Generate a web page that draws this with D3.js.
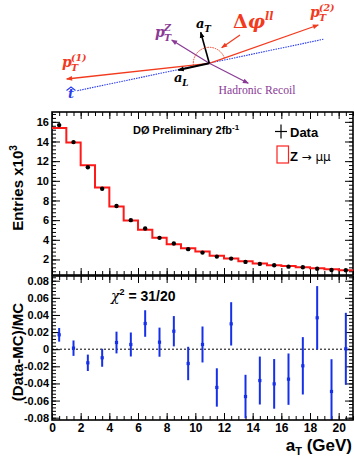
<!DOCTYPE html>
<html><head><meta charset="utf-8">
<script src="https://cdn.jsdelivr.net/npm/d3@7"></script>
<style>body{margin:0;background:#fff}svg{display:block}</style>
</head><body><svg id="c" width="354" height="463" font-family="Liberation Sans, Arial, sans-serif"></svg>
<script>
// ---- data ----
const binEdges = d3.range(0, 22);
const mcEntries   = [15.37,13.90,11.59,9.31,7.40,5.97,5.02,4.20,3.56,3.15,2.80,2.39,2.09,1.82,1.58,1.41,1.34,1.20,1.10,1.00,0.90];
const dataEntries = [15.67,13.94,11.38,9.20,7.44,6.00,5.15,4.20,3.62,3.05,2.70,2.29,2.09,1.75,1.55,1.41,1.27,1.21,1.06,0.93,0.90];
const ratioValues = [0.0168,0.0012,-0.0159,-0.0100,0.0078,0.0055,0.0300,0.0082,0.0210,-0.0167,0.0055,-0.0447,0.0296,-0.0553,-0.0366,-0.0405,-0.0350,-0.0194,0.0367,-0.0494,0.0005];
const ratioErrors = [0.0080,0.0090,0.0096,0.0105,0.0127,0.0140,0.0155,0.0170,0.0177,0.0195,0.0210,0.0224,0.0253,0.0254,0.0280,0.0290,0.0300,0.0335,0.0370,0.0377,0.0420];
const xTickValues = [0,2,4,6,8,10,12,14,16,18,20];
const upperTickValues = [2,4,6,8,10,12,14,16];
const lowerTickValues = [-0.08,-0.06,-0.04,-0.02,0,0.02,0.04,0.06,0.08];
const lowerTickLabels = ["-0.08","-0.06","-0.04","-0.02","0","0.02","0.04","0.06","0.08"];

const svg = d3.select("#c");
const L = 52, R = 353, uT = 112, uB = 275, lT = 276, lB = 420;
const x = d3.scaleLinear().domain([0, 21]).range([L, R]);
const yU = d3.scaleLinear().domain([0.42, 17]).range([uB, uT]);
const yL = d3.scaleLinear().domain([-0.0827, 0.0855]).range([lB, lT]);
const centers = mcEntries.map((d, i) => (binEdges[i] + binEdges[i + 1]) / 2);

function styleAxis(g, size) {
  g.attr("font-family", null).attr("font-size", null);
  g.select(".domain").remove();
  g.selectAll("line").attr("stroke", "#000").attr("stroke-width", 1);
  g.selectAll("text").attr("font-size", size).attr("font-weight", "bold").attr("fill", "#000");
}
function ticks(gen, scale, major, minor, majLen, minLen, pos, fmt) {
  const gm = svg.append("g").attr("transform", pos);
  gm.call(gen(scale).tickValues(minor).tickSize(-minLen).tickFormat(""));
  styleAxis(gm, 11);
  const g = svg.append("g").attr("transform", pos);
  g.call(gen(scale).tickValues(major).tickSize(-majLen).tickPadding(3).tickFormat(fmt || ""));
  styleAxis(g, 11);
  return g;
}
const xMinor = d3.range(0, 21.01, 0.5);
const uMinor = d3.range(0.8, 17, 0.4);
const lMinor = d3.range(-0.08, 0.0851, 0.004);

// ---- upper panel ----
ticks(d3.axisLeft, yU, upperTickValues, uMinor, 8, 4, `translate(${L},0)`, d => d);
ticks(d3.axisRight, yU, upperTickValues, uMinor, 8, 4, `translate(${R},0)`);
ticks(d3.axisTop, x, xTickValues, xMinor, 7, 4, `translate(0,${uT})`);
ticks(d3.axisBottom, x, xTickValues, xMinor, 7, 4, `translate(0,${uB})`);
svg.append("rect").attr("x", L).attr("y", uT).attr("width", R - L).attr("height", uB - uT)
  .attr("fill", "none").attr("stroke", "#000").attr("stroke-width", 1.6);

const stepPts = mcEntries.map((v, i) => [binEdges[i], v]).concat([[binEdges[21], mcEntries[20]]]);
svg.append("path").datum(stepPts)
  .attr("d", d3.line().x(d => x(d[0])).y(d => yU(d[1])).curve(d3.curveStepAfter))
  .attr("fill", "none").attr("stroke", "#ff1a1a").attr("stroke-width", 2);
svg.append("g").selectAll("circle").data(dataEntries).join("circle")
  .attr("cx", (d, i) => x(centers[i])).attr("cy", d => yU(d)).attr("r", 2.2).attr("fill", "#000");

svg.append("text").attr("x", 133).attr("y", 134).attr("font-size", 11).attr("font-weight", "bold")
  .text("DØ Preliminary 2fb").append("tspan").attr("dy", -4).attr("font-size", 8).text("-1");
// legend
svg.append("line").attr("x1", 275).attr("x2", 287).attr("y1", 131.5).attr("y2", 131.5).attr("stroke", "#000").attr("stroke-width", 1.2);
svg.append("line").attr("x1", 281).attr("x2", 281).attr("y1", 124.5).attr("y2", 138.5).attr("stroke", "#000").attr("stroke-width", 1.2);
svg.append("text").attr("x", 290).attr("y", 136.5).attr("font-size", 13).attr("font-weight", "bold").text("Data");
svg.append("rect").attr("x", 277).attr("y", 146).attr("width", 11.5).attr("height", 17)
  .attr("fill", "none").attr("stroke", "#ff2020").attr("stroke-width", 1.2);
const zt = svg.append("text").attr("x", 290).attr("y", 161).attr("font-size", 13);
zt.append("tspan").attr("font-weight", "bold").text("Z ");
zt.append("tspan").attr("font-family", "DejaVu Sans").attr("font-size", 12).text("→ μμ");

svg.append("text").attr("transform", "translate(23,188) rotate(-90)").attr("text-anchor", "middle")
  .attr("font-size", 15).attr("font-weight", "bold")
  .text("Entries x10").append("tspan").attr("dy", -6).attr("font-size", 10).text("3");

// ---- lower panel ----
ticks(d3.axisLeft, yL, lowerTickValues, lMinor, 8, 4, `translate(${L},0)`, (d, i) => lowerTickLabels[i]);
ticks(d3.axisRight, yL, lowerTickValues, lMinor, 8, 4, `translate(${R},0)`);
ticks(d3.axisTop, x, xTickValues, xMinor, 7, 4, `translate(0,${lT})`);
const xb = ticks(d3.axisBottom, x, xTickValues, xMinor, 7, 4, `translate(0,${lB})`, d => d);
xb.selectAll("text").attr("font-size", 12);

svg.append("defs").append("clipPath").attr("id", "lc").append("rect")
  .attr("x", L).attr("y", lT).attr("width", R - L).attr("height", lB - lT);
svg.append("line").attr("x1", L).attr("x2", R).attr("y1", yL(0)).attr("y2", yL(0))
  .attr("stroke", "#000").attr("stroke-width", 1).attr("stroke-dasharray", "2,2");
const lg = svg.append("g").attr("clip-path", "url(#lc)");
lg.selectAll("line").data(ratioValues).join("line")
  .attr("x1", (d, i) => x(centers[i])).attr("x2", (d, i) => x(centers[i]))
  .attr("y1", (d, i) => yL(d - ratioErrors[i])).attr("y2", (d, i) => yL(d + ratioErrors[i]))
  .attr("stroke", "#1530e8").attr("stroke-width", 2);
lg.selectAll("rect").data(ratioValues).join("rect")
  .attr("x", (d, i) => x(centers[i]) - 1.6).attr("y", d => yL(d) - 1.6).attr("width", 3.2).attr("height", 3.2)
  .attr("fill", "#1530e8");
svg.append("rect").attr("x", L).attr("y", lT).attr("width", R - L).attr("height", lB - lT)
  .attr("fill", "none").attr("stroke", "#000").attr("stroke-width", 1.6);

const chi = svg.append("text").attr("x", 111).attr("y", 301).attr("font-size", 14).attr("font-weight", "bold");
chi.append("tspan").attr("font-family", "DejaVu Serif").attr("font-weight", "normal").attr("font-style", "italic").text("χ");
chi.append("tspan").attr("dy", -6).attr("font-size", 9).text("2");
chi.append("tspan").attr("dy", 6).text(" = 31/20");

svg.append("text").attr("transform", "translate(23,352) rotate(-90)").attr("text-anchor", "middle")
  .attr("font-size", 15).attr("font-weight", "bold").text("(Data-MC)/MC");

const at = svg.append("text").attr("x", 352).attr("y", 451).attr("text-anchor", "end")
  .attr("font-size", 17).attr("font-weight", "bold");
at.append("tspan").text("a");
at.append("tspan").attr("dy", 4).attr("font-size", 11).text("T");
at.append("tspan").attr("dy", -4).text(" (GeV)");

// ---- kinematics diagram ----
const diagCenter = [209.3, 63.3];
const red = "#f23a1e", purple = "#8a3a96", blue = "#2a3cf0";
const defs = svg.append("defs");
function marker(id, color) {
  defs.append("marker").attr("id", id).attr("viewBox", "0 0 10 10").attr("refX", 9).attr("refY", 5)
    .attr("markerWidth", 7).attr("markerHeight", 6).attr("markerUnits", "userSpaceOnUse").attr("orient", "auto")
    .append("path").attr("d", "M0,1L10,5L0,9z").attr("fill", color);
}
marker("mr", red); marker("mp", purple); marker("mk", "#000");
function arrow(from, to, color, mid, w) {
  svg.append("line").attr("x1", from[0]).attr("y1", from[1]).attr("x2", to[0]).attr("y2", to[1])
    .attr("stroke", color).attr("stroke-width", w || 1.2).attr("marker-end", `url(#${mid})`);
}
// t-hat axis
svg.append("line").attr("x1", 77.3).attr("y1", 90.7).attr("x2", 323.3).attr("y2", 39.3)
  .attr("stroke", blue).attr("stroke-width", 1.1).attr("stroke-dasharray", "1.5,1");
arrow(diagCenter, [66.7, 79], red, "mr", 1.3);
arrow(diagCenter, [318.3, 25], red, "mr", 1.3);
arrow(diagCenter, [171.7, 40], purple, "mp", 1.2);
arrow(diagCenter, [248.3, 83.3], purple, "mp", 1.2);
arrow(diagCenter, [200.7, 32.3], "#000", "mk", 1.6);
arrow(diagCenter, [178.3, 70], "#000", "mk", 2);
// delta-phi arc
const arcR = 16, a1 = 19.4 * Math.PI / 180, a2 = 186.3 * Math.PI / 180;
svg.append("path")
  .attr("d", `M${diagCenter[0] + arcR * Math.cos(a1)},${diagCenter[1] - arcR * Math.sin(a1)} A${arcR},${arcR} 0 0 0 ${diagCenter[0] + arcR * Math.cos(a2)},${diagCenter[1] - arcR * Math.sin(a2)}`)
  .attr("fill", "none").attr("stroke", red).attr("stroke-width", 1).attr("stroke-dasharray", "1.5,1");
arrow([240, 35], [221.7, 47.7], red, "mr", 1.2);

function mathLabel(xp, yp, main, sub, sup, color, size) {
  const t = svg.append("text").attr("x", xp).attr("y", yp).attr("fill", color)
    .attr("font-family", "DejaVu Serif").attr("font-style", "italic").attr("font-weight", "bold").attr("font-size", size);
  t.append("tspan").text(main);
  const xs = xp + size * 0.64;
  if (sup) t.append("tspan").attr("x", xs).attr("y", yp - size * 0.42).attr("font-size", size * 0.68).text(sup);
  if (sub) t.append("tspan").attr("x", xs).attr("y", yp + size * 0.3).attr("font-size", size * 0.68).text(sub);
  return t;
}
mathLabel(310, 17, "p", "T", "(2)", red, 14);
mathLabel(62, 67, "p", "T", "(1)", red, 14);
mathLabel(155, 37, "p", "T", "Z", purple, 14);
mathLabel(196, 28, "a", "T", null, "#000", 13);
mathLabel(174, 82, "a", "L", null, "#000", 13);
const dphi = svg.append("text").attr("x", 233).attr("y", 28).attr("fill", red)
  .attr("font-family", "DejaVu Serif").attr("font-weight", "bold").attr("font-size", 19);
dphi.append("tspan").text("Δ");
dphi.append("tspan").attr("font-style", "italic").text("φ");
dphi.append("tspan").attr("dy", -8).attr("font-style", "italic").attr("font-size", 11).text("ll");
svg.append("text").attr("x", 218.5).attr("y", 94).attr("fill", purple)
  .attr("font-family", "Liberation Serif").attr("font-size", 12)
  .attr("textLength", 77).attr("lengthAdjust", "spacingAndGlyphs").text("Hadronic Recoil");
svg.append("text").attr("x", 68).attr("y", 98).attr("fill", blue)
  .attr("font-family", "DejaVu Serif").attr("font-style", "italic").attr("font-weight", "bold").attr("font-size", 13).text("t");
svg.append("path").attr("d", "M66.5,90.5 L71,87 L75.5,90.5").attr("fill", "none").attr("stroke", blue).attr("stroke-width", 1.1);
</script></body></html>
